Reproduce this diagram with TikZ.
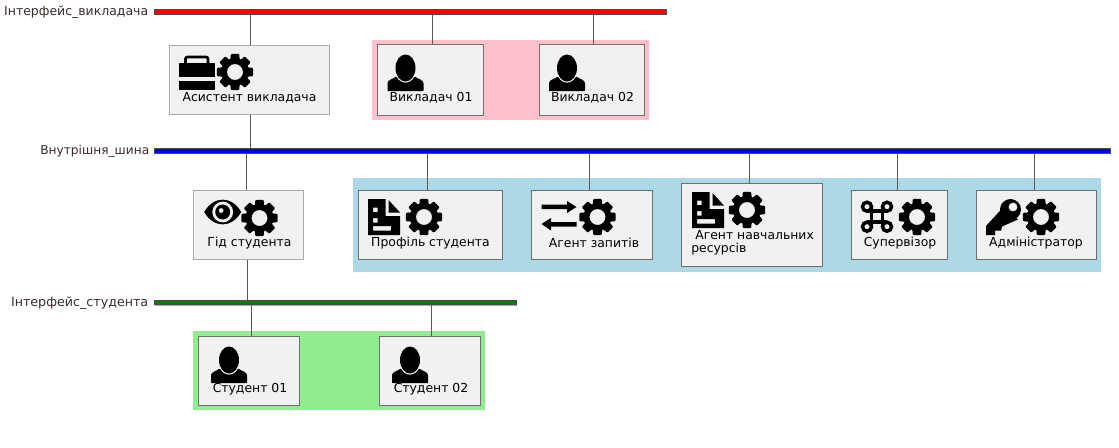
\documentclass[tikz,border=0pt]{standalone}
\usepackage{fontspec}
\setmainfont{DejaVu Sans}
\usepackage{tikz}
\usetikzlibrary{shadows}
\definecolor{boxfill}{HTML}{F1F1F1}
\definecolor{boxline}{HTML}{6F6F6F}
\definecolor{groupteacher}{HTML}{FFC0CB}
\definecolor{groupagent}{HTML}{ADD8E6}
\definecolor{groupstudent}{HTML}{90EE90}
\definecolor{buslabel}{HTML}{3A2A2A}

\tikzset{
  box/.style={draw=boxline, fill=boxfill, line width=0.75pt, inner sep=0pt},
  softbox/.style={box, draw=boxline!60},
  bus/.style={draw=black!70, line width=0.6pt, inner sep=0pt, minimum height=3.2pt,
    drop shadow={shadow xshift=0.3pt, shadow yshift=-0.7pt, opacity=0.35, fill=black}},
  buslabel/.style={anchor=east, text=buslabel, inner sep=0pt, yshift=-0.75pt},
  boxlabel/.style={text=black, font=\fontsize{9.3}{11}\selectfont, inner sep=0pt, yshift=-0.75pt},
  link/.style={draw=black!65, line width=0.75pt},
  gearicon/.pic={
    \fill[even odd rule, rounded corners=0.7pt]
      (-20:13.5) \foreach \a in {0, 45, ..., 315}{
        -- (\a-20:13.5) -- (\a-13:18.5) -- (\a+13:18.5) -- (\a+20:13.5)
      } -- cycle (0, 0) circle (8);
  },
  personicon/.pic={
    \fill (0, -5) ellipse (10 and 13.5);
    \fill[rounded corners=0.5pt] (-18, 18) -- (-18, 11) .. controls (-18, 7) and (-13, 6) .. (-9, 3.5)
      .. controls (-5, 11.5) and (5, 11.5) .. (9, 3.5)
      .. controls (13, 6) and (18, 7) .. (18, 11) -- (18, 18) -- cycle;
  },
  caseicon/.pic={
    \fill (-18, -9.5) rectangle (18, 4.5);
    \fill (-18, 8.5) rectangle (18, 17.5);
    \draw[line width=2pt, rounded corners=1.5pt] (-11.5, -9.5) -- (-11.5, -15.5) -- (11, -15.5) -- (11, -9.5);
  },
  docicon/.pic={
    \fill[even odd rule] (-16, -18) -- (1.5, -18) -- (1.5, -1) -- (16, -1)
      -- (16, 18) -- (-16, 18) -- cycle
      (-11, -9.5) rectangle (-6.5, -5)
      (-11, 1) rectangle (-6.5, 5.5)
      (-11, 9) rectangle (7, 13.5);
    \fill (4.5, -17) -- (16, -4.5) -- (4.5, -4.5) -- cycle;
  },
  swapicon/.pic={
    \fill (-17.5, -10.5) -- (8, -10.5) -- (8, -14) -- (17.5, -8) -- (8, -2) -- (8, -6)
      -- (-17.5, -6) -- cycle;
    \fill (17.5, 7) -- (-8, 7) -- (-8, 3) -- (-17.5, 9) -- (-8, 15.5) -- (-8, 11.5)
      -- (17.5, 11.5) -- cycle;
  },
  eyeicon/.pic={
    \fill[even odd rule] (-18.5, 0) .. controls (-9, -16.5) and (9, -16.5) .. (18.5, 0)
      .. controls (9, 16.5) and (-9, 16.5) .. (-18.5, 0) -- cycle
      (0, 0) circle (10.5);
    \fill[even odd rule] (0, 0) circle (7.5) (-1.5, -1.5) circle (2.5);
  },
  cmdicon/.pic={
    \draw[line width=2.6pt] (-5.5, -10) -- (-5.5, 10) (5.5, -10) -- (5.5, 10)
      (-10, -5.5) -- (10, -5.5) (-10, 5.5) -- (10, 5.5);
    \foreach \px in {-1, 1}{
      \foreach \py in {-1, 1}{
        \draw[line width=2.6pt] (\px*10, \py*10) circle (4.5);
      }
    }
  },
  keyicon/.pic={
    \fill[even odd rule] (7.5, -8) circle (10.5) (10, -10.5) circle (4.5);
    \fill (0, -10) -- (15, 2) -- (-1, 9) -- (-2, 13) -- (-8, 13) -- (-8, 17.5)
      -- (-17, 17.5) -- (-17, 8.5) -- cycle;
  },
}

\begin{document}
\begin{tikzpicture}[x=0.75pt, y=-0.75pt]
    \useasboundingbox (0, 0) rectangle (1119, 447);

    % groups behind the boxes
    \fill[groupteacher] (372, 40) rectangle (649, 119.5);
    \fill[groupagent] (352.5, 178) rectangle (1100.5, 271.5);
    \fill[groupstudent] (193, 331) rectangle (485, 409.5);

    % the three buses
    \node[bus, fill=red, minimum width=384pt](busteacher) at (410.5, 12){};
    \node[buslabel, font=\fontsize{9.35}{11}\selectfont](labelteacher) at (148.5, 11){Інтерфейс\_викладача};
    \node[bus, fill=blue, minimum width=717pt](businner) at (632.5, 151){};
    \node[buslabel, font=\fontsize{9.15}{11}\selectfont](labelinner) at (149.5, 150){Внутрішня\_шина};
    \node[bus, fill=green!50!black, minimum width=271pt](busstudent) at (335.5, 302.5){};
    \node[buslabel, font=\fontsize{9.5}{11}\selectfont](labelstudent) at (148.5, 302){Інтерфейс\_студента};

    % teacher row
    \node[softbox, minimum width=120pt, minimum height=51.75pt](assistant) at (249, 79.5){};
    \pic at (197, 72.5){caseicon};
    \pic at (235, 72){gearicon};
    \node[boxlabel](assistantlabel) at (249.5, 97){Асистент викладача};
    \node[box, minimum width=79.5pt, minimum height=53.25pt](teacherone) at (430, 79.5){};
    \pic at (405.5, 73){personicon};
    \node[boxlabel](teacheronelabel) at (431, 97){Викладач 01};
    \node[box, minimum width=78.75pt, minimum height=53.25pt](teachertwo) at (591.5, 79.5){};
    \pic at (567, 73){personicon};
    \node[boxlabel](teachertwolabel) at (592.5, 97){Викладач 02};

    % guide
    \node[softbox, minimum width=82.5pt, minimum height=51.75pt](guide) at (248.5, 225){};
    \pic at (222.7, 212){eyeicon};
    \pic at (259.5, 218){gearicon};
    \node[boxlabel](guidelabel) at (249.5, 242.5){Гід студента};

    % agents row
    \node[box, minimum width=108pt, minimum height=51.75pt](profile) at (430, 225){};
    \pic at (384, 217){docicon};
    \pic at (424, 217){gearicon};
    \node[boxlabel](profilelabel) at (430.5, 242){Профіль студента};
    \node[box, minimum width=90.75pt, minimum height=51.75pt](requests) at (591.5, 225){};
    \pic at (559, 215){swapicon};
    \pic at (597.5, 217){gearicon};
    \node[boxlabel](requestslabel) at (594, 242){Агент запитів};
    \node[box, minimum width=105.75pt, minimum height=62.25pt](resources) at (751.5, 224.5){};
    \pic at (708, 210){docicon};
    \pic at (747, 210){gearicon};
    \node[boxlabel, anchor=west](resourceslabel) at (695, 234){Агент навчальних};
    \node[boxlabel, anchor=west](resourceslabeltwo) at (691, 248){ресурсів};
    \node[box, minimum width=72pt, minimum height=51.75pt](supervisor) at (899, 225){};
    \pic at (877, 216.7){cmdicon};
    \pic at (917, 217){gearicon};
    \node[boxlabel](supervisorlabel) at (900, 242.5){Супервізор};
    \node[box, minimum width=90pt, minimum height=51.75pt](admin) at (1036, 225){};
    \pic at (1003, 217.5){keyicon};
    \pic at (1041, 217){gearicon};
    \node[boxlabel](adminlabel) at (1036, 242){Адміністратор};

    % student row
    \node[box, minimum width=75.75pt, minimum height=51.75pt](studentone) at (248.5, 370.5){};
    \pic at (229, 365){personicon};
    \node[boxlabel](studentonelabel) at (250, 388){Студент 01};
    \node[box, minimum width=75.75pt, minimum height=51.75pt](studenttwo) at (429.5, 370.5){};
    \pic at (410, 365){personicon};
    \node[boxlabel](studenttwolabel) at (431, 388){Студент 02};

    % connectors
    \coordinate(tapassistant) at (250.5, 12);
    \coordinate(tapteacherone) at (432, 12);
    \coordinate(tapteachertwo) at (593, 12);
    \draw[link] (tapassistant |- busteacher.south) -- (tapassistant |- assistant.north);
    \draw[link] (tapteacherone |- busteacher.south) -- (tapteacherone |- teacherone.north);
    \draw[link] (tapteachertwo |- busteacher.south) -- (tapteachertwo |- teachertwo.north);
    \coordinate(tapinner) at (250, 151);
    \draw[link] (tapinner |- assistant.south) -- (tapinner |- businner.north);
    \coordinate(tapguide) at (246.7, 151);
    \draw[link] (tapguide |- businner.south) -- (tapguide |- guide.north);
    \coordinate(tapprofile) at (427.7, 151);
    \coordinate(taprequests) at (589, 151);
    \coordinate(tapresources) at (749.5, 151);
    \coordinate(tapsupervisor) at (897, 151);
    \coordinate(tapadmin) at (1034, 151);
    \draw[link] (tapprofile |- businner.south) -- (tapprofile |- profile.north);
    \draw[link] (taprequests |- businner.south) -- (taprequests |- requests.north);
    \draw[link] (tapresources |- businner.south) -- (tapresources |- resources.north);
    \draw[link] (tapsupervisor |- businner.south) -- (tapsupervisor |- supervisor.north);
    \draw[link] (tapadmin |- businner.south) -- (tapadmin |- admin.north);
    \coordinate(tapbottom) at (247, 302.5);
    \draw[link] (tapbottom |- guide.south) -- (tapbottom |- busstudent.north);
    \coordinate(tapstudentone) at (251, 302.5);
    \coordinate(tapstudenttwo) at (431.5, 302.5);
    \draw[link] (tapstudentone |- busstudent.south) -- (tapstudentone |- studentone.north);
    \draw[link] (tapstudenttwo |- busstudent.south) -- (tapstudenttwo |- studenttwo.north);
\end{tikzpicture}
\end{document}
